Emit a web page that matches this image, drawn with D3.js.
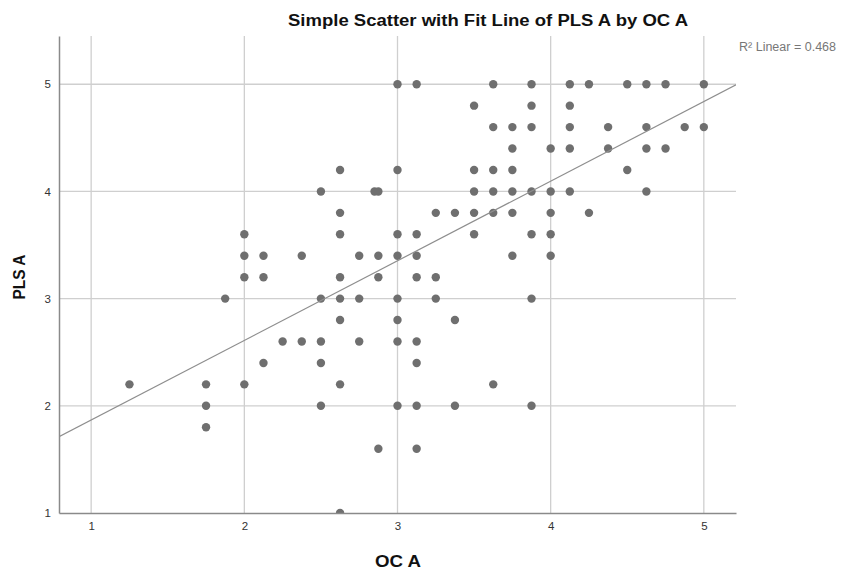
<!DOCTYPE html>
<html>
<head>
<meta charset="utf-8">
<script src="https://cdn.jsdelivr.net/npm/d3@7"></script>
<style>
  body { margin: 0; background: #fff; }
  text { font-family: "Liberation Sans", Arial, sans-serif; }
</style>
</head>
<body>
<svg id="chart"></svg>
<script>
// OC A values (x) and the PLS A values (y) found at each of them
var ocValues = [1.25, 1.75, 1.875, 2, 2.125, 2.25, 2.375, 2.5, 2.625, 2.75, 2.85, 2.875,
                3, 3.125, 3.25, 3.375, 3.5, 3.625, 3.75, 3.875, 4, 4.125, 4.25, 4.375,
                4.5, 4.625, 4.75, 4.875, 5];
var plsValues = [
  [2.2],
  [2.2, 2.0, 1.8],
  [3.0],
  [3.6, 3.4, 3.2, 2.2],
  [3.4, 3.2, 2.4],
  [2.6],
  [3.4, 2.6],
  [4.0, 3.0, 2.6, 2.4, 2.0],
  [4.2, 3.8, 3.6, 3.2, 3.0, 2.8, 2.2, 1.0],
  [3.4, 3.0, 2.6],
  [4.0],
  [4.0, 3.4, 3.2, 1.6],
  [5.0, 4.2, 3.6, 3.4, 3.0, 2.8, 2.6, 2.0],
  [5.0, 3.6, 3.4, 3.2, 2.6, 2.4, 2.0, 1.6],
  [3.8, 3.2, 3.0],
  [3.8, 2.8, 2.0],
  [4.8, 4.2, 4.0, 3.8, 3.6],
  [5.0, 4.6, 4.2, 4.0, 3.8, 2.2],
  [4.6, 4.4, 4.2, 4.0, 3.8, 3.4],
  [5.0, 4.8, 4.6, 4.0, 3.6, 3.0, 2.0],
  [4.4, 4.0, 3.8, 3.6, 3.4],
  [5.0, 4.8, 4.6, 4.4, 4.0],
  [5.0, 3.8],
  [4.6, 4.4],
  [5.0, 4.2],
  [5.0, 4.6, 4.4, 4.0],
  [5.0, 4.4],
  [4.6],
  [5.0, 4.6]
];
var xTicks = [1, 2, 3, 4, 5];
var yTicks = [1, 2, 3, 4, 5];
var fitIntercept = 1.124;
var fitSlope = 0.743;
var rSquared = "0.468";

var width = 841, height = 574;
var padding = { top: 36, right: 105, bottom: 61, left: 59 };

var svg = d3.select("#chart")
    .attr("width", width)
    .attr("height", height);

var xScale = d3.scaleLinear()
    .domain([0.79, 5.21])
    .range([padding.left, width - padding.right]);

var yScale = d3.scaleLinear()
    .domain([1, 5.45])
    .range([height - padding.bottom, padding.top]);

var points = [];
ocValues.forEach((x, i) => {
  plsValues[i].forEach(y => points.push({ x: x, y: y }));
});

svg.append("clipPath")
    .attr("id", "plot-clip")
  .append("rect")
    .attr("x", padding.left)
    .attr("y", padding.top)
    .attr("width", width - padding.left - padding.right)
    .attr("height", height - padding.top - padding.bottom);

// grid lines
svg.append("g")
    .selectAll("line")
    .data(xTicks)
    .enter()
    .append("line")
      .attr("x1", d => xScale(d))
      .attr("x2", d => xScale(d))
      .attr("y1", padding.top)
      .attr("y2", height - padding.bottom)
      .attr("stroke", "#cfcfcf")
      .attr("stroke-width", 1.3);

svg.append("g")
    .selectAll("line")
    .data(yTicks.slice(1))
    .enter()
    .append("line")
      .attr("x1", padding.left)
      .attr("x2", width - padding.right)
      .attr("y1", d => yScale(d))
      .attr("y2", d => yScale(d))
      .attr("stroke", "#cfcfcf")
      .attr("stroke-width", 1.3);

// points
svg.append("g")
    .attr("clip-path", "url(#plot-clip)")
    .selectAll("circle")
    .data(points)
    .enter()
    .append("circle")
      .attr("cx", d => xScale(d.x))
      .attr("cy", d => yScale(d.y))
      .attr("r", 4.2)
      .attr("fill", "#6f6f6f");

// fit line
var xs = xScale.domain();
svg.append("line")
    .attr("clip-path", "url(#plot-clip)")
    .attr("x1", xScale(xs[0]))
    .attr("y1", yScale(fitIntercept + fitSlope * xs[0]))
    .attr("x2", xScale(xs[1]))
    .attr("y2", yScale(fitIntercept + fitSlope * xs[1]))
    .attr("stroke", "#8e8e8e")
    .attr("stroke-width", 1.2);

// axes
var xAxis = d3.axisBottom(xScale)
    .tickValues(xTicks)
    .tickSize(0)
    .tickPadding(9)
    .tickFormat(d3.format("d"));

svg.append("g")
    .attr("transform", "translate(0," + (height - padding.bottom) + ")")
    .call(xAxis)
    .call(g => g.select(".domain").attr("stroke", "#8a8a8a").attr("stroke-width", 1.5))
    .call(g => g.selectAll("text").attr("font-size", 11.5).attr("fill", "#333"));

var yAxis = d3.axisLeft(yScale)
    .tickValues(yTicks)
    .tickSize(0)
    .tickPadding(8)
    .tickFormat(d3.format("d"));

svg.append("g")
    .attr("transform", "translate(" + padding.left + ",0)")
    .call(yAxis)
    .call(g => g.select(".domain").attr("stroke", "#8a8a8a").attr("stroke-width", 1.5))
    .call(g => g.selectAll("text").attr("font-size", 11.5).attr("fill", "#333"));

// titles
svg.append("text")
    .attr("x", 488)
    .attr("y", 26)
    .attr("font-size", 16)
    .attr("font-weight", "bold")
    .attr("fill", "#111")
    .attr("text-anchor", "middle")
    .attr("textLength", 400)
    .attr("lengthAdjust", "spacingAndGlyphs")
    .text("Simple Scatter with Fit Line of PLS A by OC A");

svg.append("text")
    .attr("x", 739)
    .attr("y", 51)
    .attr("font-size", 12)
    .attr("fill", "#777")
    .attr("textLength", 97)
    .attr("lengthAdjust", "spacingAndGlyphs")
    .text("R\u00b2 Linear = " + rSquared);

svg.append("text")
    .attr("transform", "rotate(-90)")
    .attr("x", -277)
    .attr("y", 25)
    .attr("font-size", 17)
    .attr("font-weight", "bold")
    .attr("fill", "#111")
    .attr("text-anchor", "middle")
    .attr("textLength", 45)
    .attr("lengthAdjust", "spacingAndGlyphs")
    .text("PLS A");

svg.append("text")
    .attr("x", 398)
    .attr("y", 567)
    .attr("font-size", 17)
    .attr("font-weight", "bold")
    .attr("fill", "#111")
    .attr("text-anchor", "middle")
    .attr("textLength", 46)
    .attr("lengthAdjust", "spacingAndGlyphs")
    .text("OC A");
</script>
</body>
</html>
